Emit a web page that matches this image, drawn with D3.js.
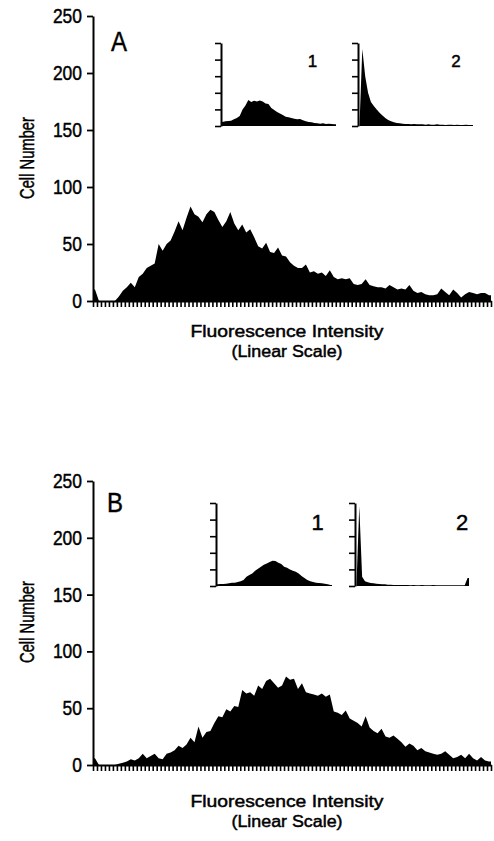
<!DOCTYPE html>
<html><head><meta charset="utf-8">
<script src="https://cdn.jsdelivr.net/npm/d3@7"></script>
<style>
body{margin:0;background:#fff}
svg{display:block}
text{font-family:"Liberation Sans",Arial,Helvetica,sans-serif;fill:#000;stroke:#000;stroke-width:0.45px}
</style>
</head><body><svg id="c" width="494" height="841"></svg>
<script>
// ---------- data ----------
const yTicks = [0, 50, 100, 150, 200, 250];
const panelLabels = ["A", "B"];
const insetLabels = ["1", "2"];
const xTitle = "Fluorescence Intensity";
const xSubtitle = "(Linear Scale)";
const yTitle = "Cell Number";
const nChannels = 100;
const nInsetChannels = 40;

const mainA = [10,0,0,0,0,0,4,9,12,16,
  12,21,24,29,31,33,50,44,50,53,
  61,70,62,73,83,76,74,69,76,80,
  78,71,65,70,78,68,62,67,60,63,
  56,48,46,51,43,42,47,40,39,34,
  31,29,29,32,25,26,24,25,22,27,
  21,19,20,19,20,15,14,15,19,14,
  13,12,12,11,14,12,10,11,10,14,
  9,7,8,6,5,5,6,11,8,5,
  10,7,3,6,8,7,6,7,7,5];
const mainB = [6,0,0,0,0,0,1,2,3,5,
  4,6,10,6,8,10,6,5,10,11,
  13,17,15,18,24,20,34,24,29,30,
  37,43,42,49,47,52,51,66,63,64,
  61,70,67,74,76,72,68,70,78,75,
  76,67,72,64,63,62,61,63,60,62,
  47,46,44,48,41,39,37,34,43,33,
  30,28,32,25,24,26,23,20,16,19,
  17,13,15,12,11,10,9,10,12,9,
  6,7,9,6,10,6,4,7,4,3];
const insetA1 = [12,14,15,16,20,24,30,50,62,78,72,76,74,77,74,68,66,54,48,42,
  38,33,28,26,24,22,20,21,17,14,12,11,9,8,7,8,6,7,6,5];
const insetA2 = [0,232,150,100,72,60,50,40,32,24,18,14,11,9,8,7,6,6,5,6,
  5,5,5,4,5,4,4,5,4,4,3,4,4,3,4,3,3,4,3,3];
const insetB1 = [5,6,6,7,8,10,10,12,14,18,28,33,38,46,52,58,64,68,72,76,
  75,70,66,58,55,50,46,43,38,30,24,18,14,12,10,9,8,7,5,3];
const insetB2 = [0,240,28,14,11,9,8,7,6,5,5,4,4,3,3,3,3,3,3,2,
  3,2,2,3,2,2,2,3,2,2,2,2,2,2,2,2,2,2,2,24];

// ---------- layout ----------
const panels = [
  {label: panelLabels[0], data: mainA, top: 16, bottom: 301, left: 93, right: 491,
   lab: {x: 111, y: 51, size: 28, len: 16},
   insets: [
     {data: insetA1, x0: 221, x1: 336, y0: 126, y1: 43, lx: 312.5, ly: 67, ls: 17},
     {data: insetA2, x0: 358, x1: 473, y0: 126, y1: 43, lx: 456, ly: 67, ls: 17}],
   titleY: 337, subY: 357, yTitleY: 158},
  {label: panelLabels[1], data: mainB, top: 481, bottom: 765, left: 93, right: 491,
   lab: {x: 107, y: 512, size: 28, len: 16},
   insets: [
     {data: insetB1, x0: 216, x1: 332, y0: 586, y1: 503, lx: 317.5, ly: 530, ls: 22},
     {data: insetB2, x0: 355, x1: 469, y0: 586, y1: 503, lx: 462, ly: 530, ls: 22}],
   titleY: 807, subY: 827, yTitleY: 622}
];

const svg = d3.select("#c");

function pts(data) {
  const n = data.length;
  return [{i: 0, v: data[0]}].concat(data.map((v, i) => ({i: i + 0.5, v})), [{i: n, v: data[n - 1]}]);
}

panels.forEach(p => {
  const g = svg.append("g");
  const x = d3.scaleLinear().domain([0, nChannels]).range([p.left, p.right]);
  const y = d3.scaleLinear().domain([0, 250]).range([p.bottom, p.top]);

  // histogram
  const area = d3.area().x(d => x(d.i)).y0(y(0)).y1(d => y(d.v));
  g.append("path").datum(pts(p.data)).attr("d", area).attr("fill", "#000");

  // y axis
  const ya = g.append("g").attr("transform", `translate(${p.left},0)`)
    .call(d3.axisLeft(y).tickValues(yTicks).tickSize(6).tickSizeOuter(0).tickPadding(5));
  ya.select(".domain").attr("stroke-width", 2);
  ya.selectAll(".tick line").attr("stroke-width", 1.8);
  ya.selectAll(".tick text")
    .attr("font-size", 20).attr("font-family", null)
    .attr("textLength", d => String(d).length * 9.7)
    .attr("lengthAdjust", "spacingAndGlyphs");

  // x axis
  const xa = g.append("g").attr("transform", `translate(0,${p.bottom})`)
    .call(d3.axisBottom(x).tickValues(d3.range(0, nChannels + 1)).tickSize(6).tickSizeOuter(0).tickFormat(""));
  xa.select(".domain").attr("stroke-width", 2);
  xa.selectAll(".tick line").attr("stroke-width", 1.6);

  // panel label
  g.append("text").attr("x", p.lab.x).attr("y", p.lab.y).attr("font-size", p.lab.size)
    .attr("textLength", p.lab.len).attr("lengthAdjust", "spacingAndGlyphs").text(p.label);

  // titles
  g.append("text").attr("x", 287).attr("y", p.titleY).attr("text-anchor", "middle")
    .attr("font-size", 16).attr("textLength", 193).attr("lengthAdjust", "spacingAndGlyphs").text(xTitle);
  g.append("text").attr("x", 287).attr("y", p.subY).attr("text-anchor", "middle")
    .attr("font-size", 16).attr("textLength", 111).attr("lengthAdjust", "spacingAndGlyphs").text(xSubtitle);
  g.append("text").attr("transform", `translate(34,${p.yTitleY}) rotate(-90)`).attr("text-anchor", "middle")
    .attr("font-size", 20).attr("textLength", 82).attr("lengthAdjust", "spacingAndGlyphs").text(yTitle);

  // insets
  p.insets.forEach((ins, k) => {
    const ix = d3.scaleLinear().domain([0, nInsetChannels]).range([ins.x0, ins.x1]);
    const iy = d3.scaleLinear().domain([0, 250]).range([ins.y0, ins.y1]);
    const ia = d3.area().x(d => ix(d.i)).y0(iy(0)).y1(d => iy(d.v));
    g.append("path").datum(pts(ins.data)).attr("d", ia).attr("fill", "#000");
    const iax = g.append("g").attr("transform", `translate(${ins.x0},0)`)
      .call(d3.axisLeft(iy).tickValues(yTicks).tickSize(6).tickSizeOuter(0).tickFormat(""));
    iax.select(".domain").attr("stroke-width", 2);
    iax.selectAll(".tick line").attr("stroke-width", 1.6);
    g.append("text").attr("x", ins.lx).attr("y", ins.ly).attr("text-anchor", "middle")
      .attr("font-size", ins.ls).text(insetLabels[k]);
  });
});
</script>
</body></html>
